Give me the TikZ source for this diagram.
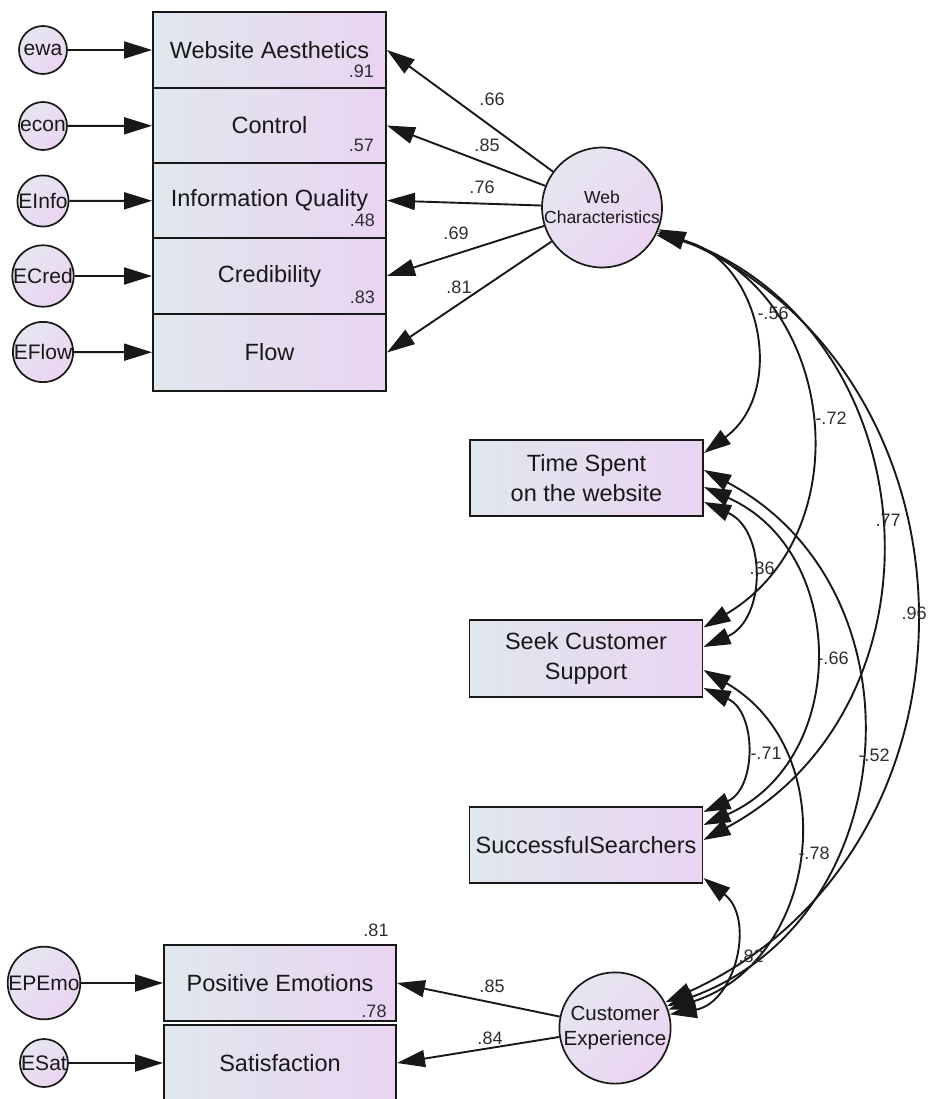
\documentclass[tikz,border=0pt]{standalone}
\usepackage{fontspec}
\setmainfont{Liberation Sans}
\usetikzlibrary{arrows.meta}
\definecolor{boxL}{RGB}{224,231,237}
\definecolor{boxR}{RGB}{234,212,242}
\definecolor{ovL}{RGB}{229,230,241}
\definecolor{ovR}{RGB}{236,212,242}
\definecolor{ink}{RGB}{24,24,24}
\definecolor{numc}{RGB}{45,45,52}
\begin{document}
\begin{tikzpicture}[x=1pt,y=1pt,
  obs/.style={draw=ink, line width=1.9pt, rectangle, minimum width=233pt,
    minimum height=76pt, inner sep=0pt, left color=boxL, right color=boxR,
    font=\fontsize{23.5}{30}\selectfont, text=ink, align=center},
  err/.style={draw=ink, line width=1.7pt, circle, minimum size=48pt,
    inner sep=0pt, top color=ovL, bottom color=ovR, shading angle=45,
    font=\fontsize{21}{24}\selectfont, text=ink},
  lat/.style={err, minimum size=100pt, align=center},
  meas/.style={draw=ink, line width=1.9pt, -{Triangle[length=28pt,width=17pt]}},
  cov/.style={draw=ink, line width=1.9pt,
    {Triangle[length=27pt,width=17pt]}-{Triangle[length=27pt,width=17pt]},
    bend left=66, looseness=1.21},
  lbl/.style={font=\fontsize{18}{20}\selectfont, text=numc, inner sep=0pt},
  num/.style={font=\fontsize{18}{20}\selectfont, text=numc, inner sep=0pt},
]
\useasboundingbox (0,0) rectangle (927,-1099);

% indicators of web characteristics
\node[obs] (wa) at (269.5,-50) {Website Aesthetics};
\node[obs, minimum height=75pt] (ctl) at (269.5,-125.5) {Control};
\node[obs, minimum height=75pt] (iq) at (269.5,-200.5) {Information Quality};
\node[obs] (cred) at (269.5,-276) {Credibility};
\node[obs, minimum height=77pt] (flow) at (269.5,-352.5) {Flow};

\node[num, anchor=east] (r91) at (374,-71) {.91};
\node[num, anchor=east] (r57) at (374,-145) {.57};
\node[num, anchor=east] (r48) at (375,-220) {.48};
\node[num, anchor=east] (r83) at (375,-297) {.83};

% error terms
\node[err] (ewa) at (43,-50) {ewa};
\node[err] (econ) at (43,-126) {econ};
\node[err] (einfo) at (43,-201) {EInfo};
\node[err] (ecred) at (43,-276) {ECred};
\node[err] (eflow) at (43,-352) {EFlow};

\draw[meas] (ewa) -- (wa);
\draw[meas] (econ) -- (ctl);
\draw[meas] (einfo) -- (iq);
\draw[meas] (ecred) -- (cred);
\draw[meas] (eflow) -- (flow);

% latent: web characteristics
\node[lat, font=\fontsize{17.5}{20}\selectfont] (wc) at (602,-207.5) {Web\\Characteristics};
\draw[meas] (wc) -- (wa.east);
\draw[meas] (wc) -- (ctl.east);
\draw[meas] (wc) -- (iq.east);
\draw[meas] (wc) -- (cred.east);
\draw[meas] (wc) -- (flow.east);

\node[lbl] (l66) at (492,-99) {.66};
\node[lbl] (l85a) at (487,-145) {.85};
\node[lbl] (l76) at (482,-187) {.76};
\node[lbl] (l69) at (456,-233) {.69};
\node[lbl] (l81a) at (459,-287) {.81};

% observed behaviour variables
\node[obs] (ts) at (586.5,-478) {Time Spent\\on the website};
\node[obs, minimum height=77pt] (scs) at (586,-658.5) {Seek Customer\\Support};
\node[obs] (ss) at (586,-845) {SuccessfulSearchers};

% customer experience block
\node[obs, minimum width=232pt] (pe) at (280,-983) {Positive Emotions};
\node[obs, minimum width=232pt] (sat) at (280,-1063) {Satisfaction};
\node[err] (epemo) at (44,-983) {EPEmo};
\node[err] (esat) at (44,-1063) {ESat};
\node[lat, minimum size=104pt, font=\fontsize{20.5}{25}\selectfont] (ce) at (615,-1028) {Customer\\Experience};

\draw[meas] (epemo) -- (pe);
\draw[meas] (esat) -- (sat);
\draw[meas] (ce) -- (pe.east);
\draw[meas] (ce) -- (sat.east);

\node[num] (r81) at (376,-930) {.81};
\node[num] (r78) at (374,-1011) {.78};
\node[lbl] (l85b) at (492,-986) {.85};
\node[lbl] (l84) at (490,-1038) {.84};

% covariances
\draw[cov] (wc.-27) to ([yshift=25pt]ts.east);
\draw[cov] (wc.-25) to ([yshift=31pt]scs.east);
\draw[cov] (wc.-23) to ([yshift=5pt]ss.east);
\draw[cov] (wc.-21) to (ce.27);
\draw[cov] ([yshift=-24pt]ts.east) to ([yshift=11.5pt]scs.east);
\draw[cov] ([yshift=-9pt]ts.east) to ([yshift=20pt]ss.east);
\draw[cov] ([yshift=8pt]ts.east) to (ce.23);
\draw[cov] ([yshift=-29.5pt]scs.east) to ([yshift=33pt]ss.east);
\draw[cov] ([yshift=-11.5pt]scs.east) to (ce.19);
\draw[cov] ([yshift=-33pt]ss.east) to (ce.14);

\node[lbl] (c56) at (773,-313) {-.56};
\node[lbl] (c72) at (831,-418) {-.72};
\node[lbl] (c77) at (888,-520) {.77};
\node[lbl] (c96) at (914,-613) {.96};
\node[lbl] (c36) at (762,-568) {.36};
\node[lbl] (c66) at (833,-658) {-.66};
\node[lbl] (c52) at (874,-755) {-.52};
\node[lbl] (c71) at (766,-753) {-.71};
\node[lbl] (c78) at (814,-853) {-.78};
\node[lbl] (c82) at (751,-956) {.82};
\end{tikzpicture}
\end{document}
